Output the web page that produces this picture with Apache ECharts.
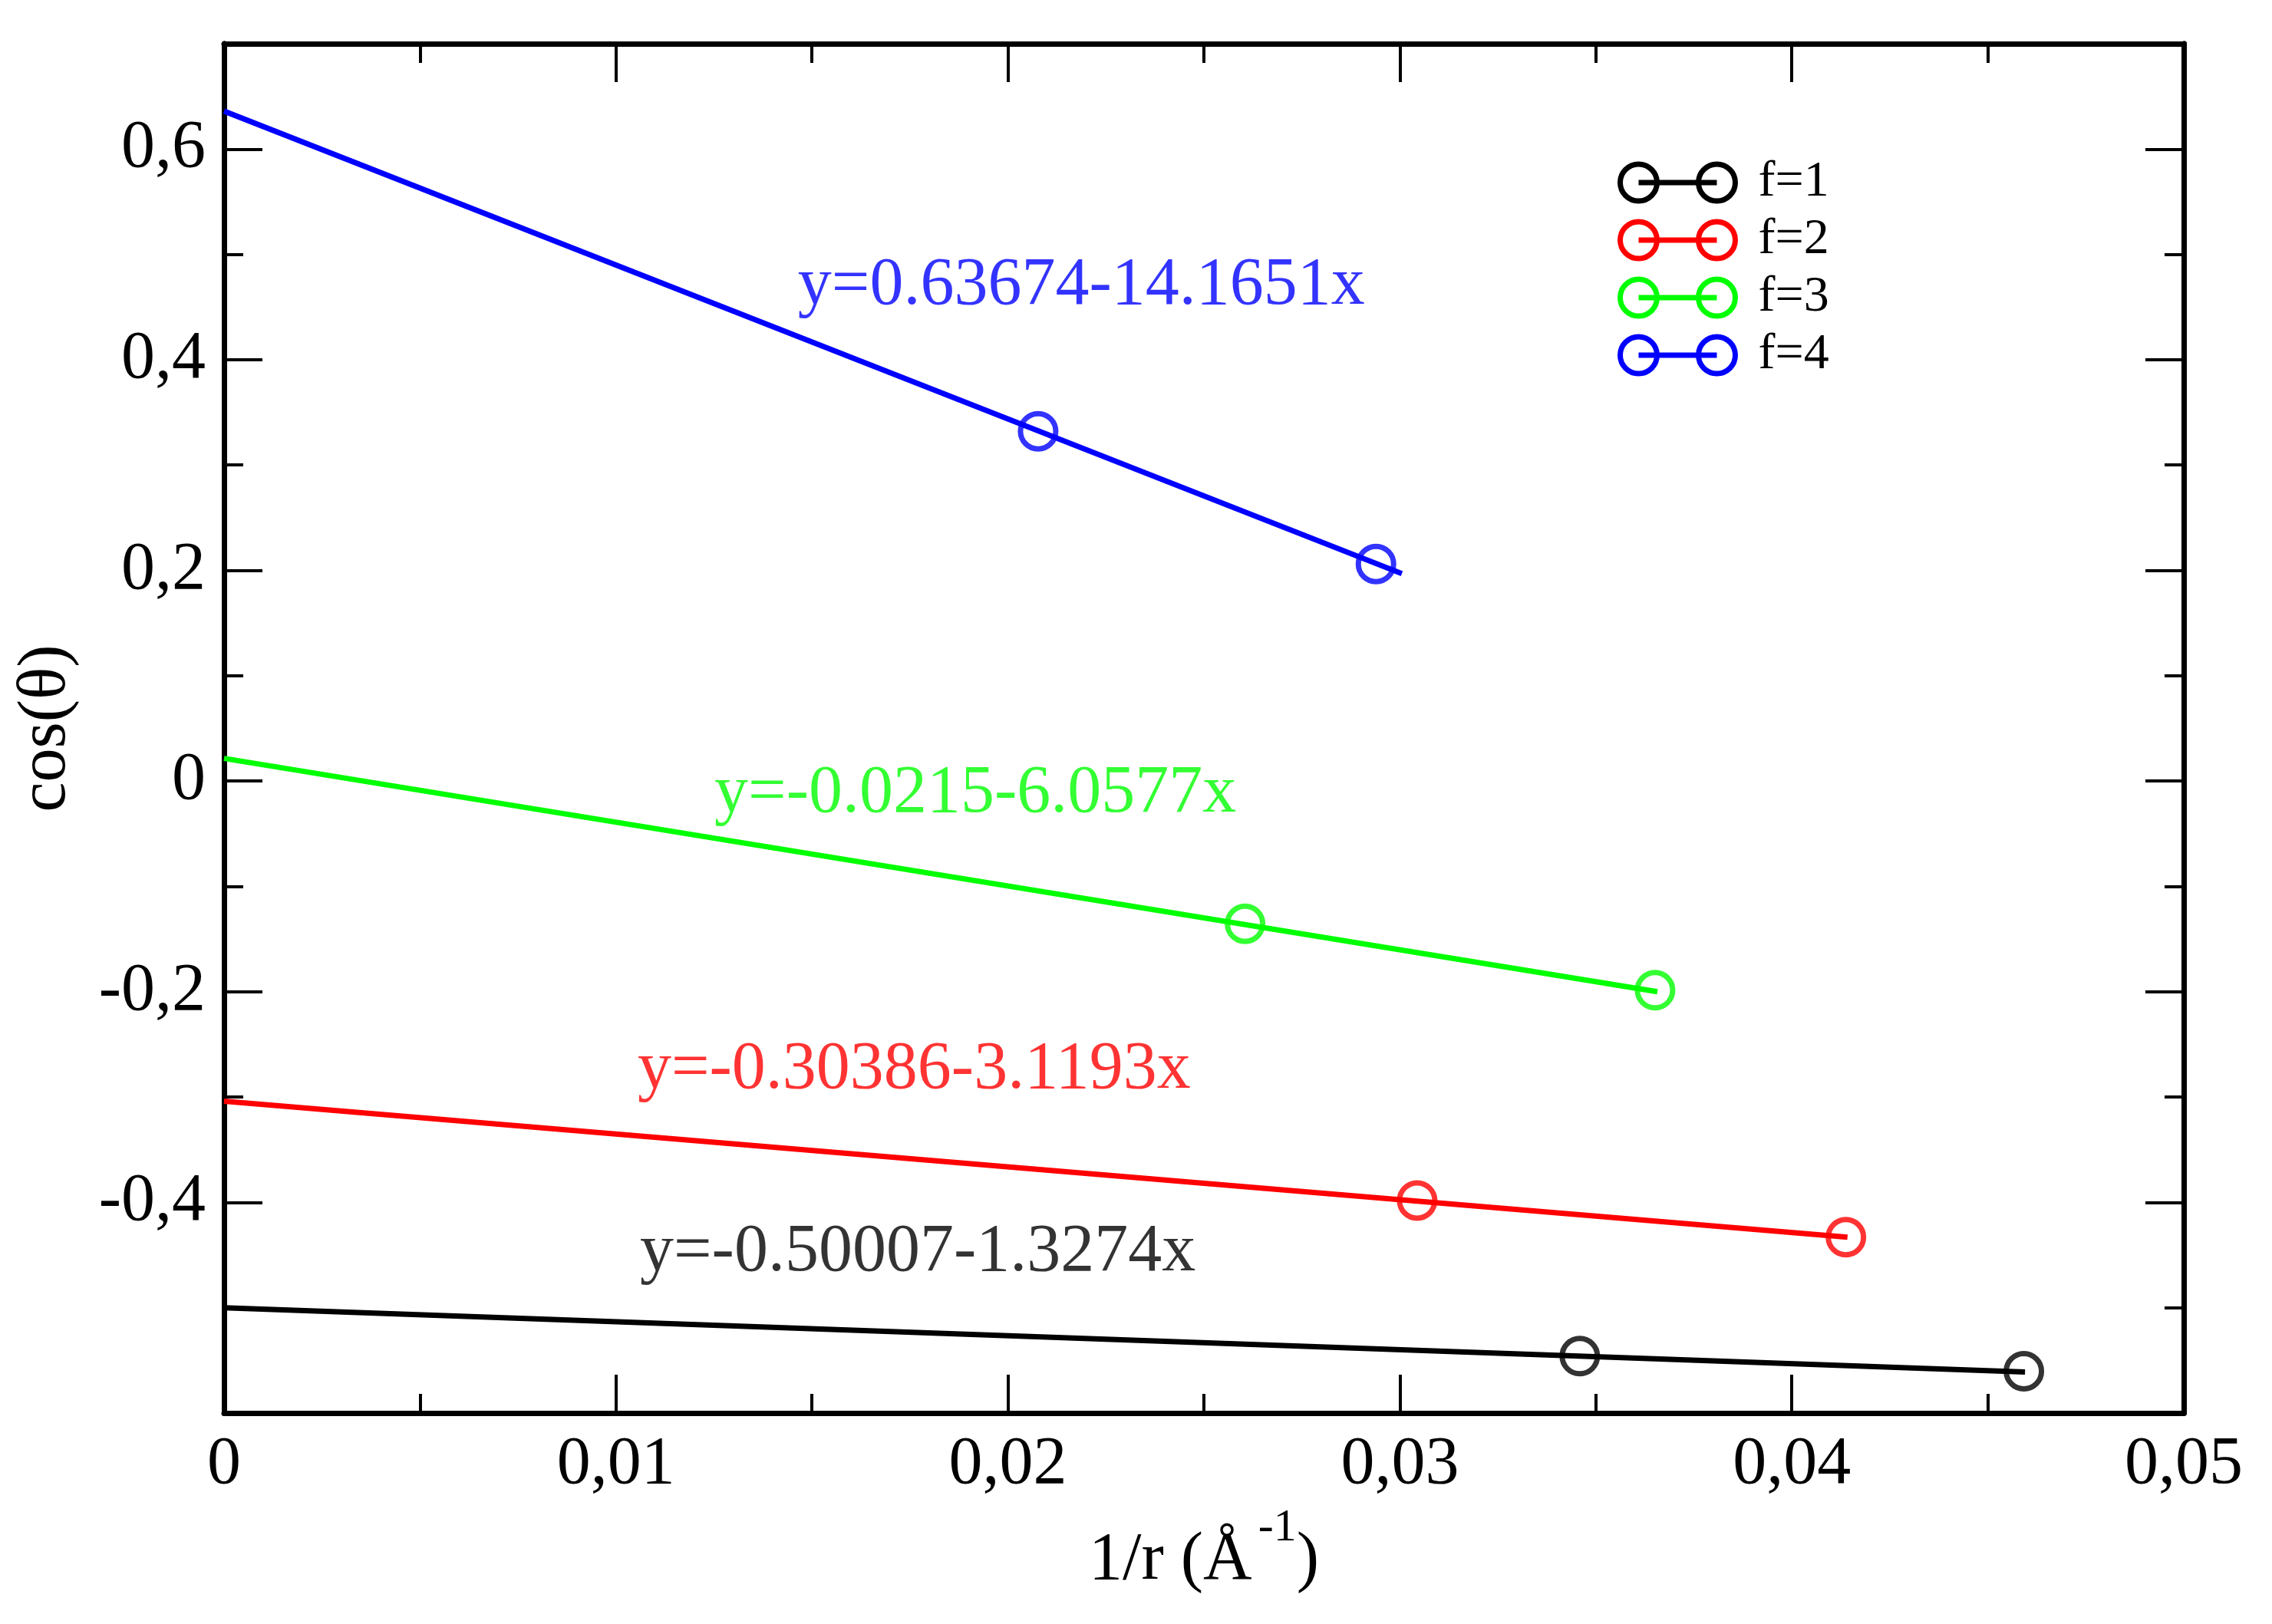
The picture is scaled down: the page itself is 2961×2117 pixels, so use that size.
<!DOCTYPE html>
<html>
<head>
<meta charset="utf-8">
<script src="https://cdn.jsdelivr.net/npm/echarts@6/dist/echarts.min.js"></script>
<style>
  html, body { margin: 0; padding: 0; background: #fff; }
  #chart { width: 2961px; height: 2117px; }
</style>
</head>
<body>
<div id="chart"></div>
<script>
// data
const seriesNames = ['f=1', 'f=2', 'f=3', 'f=4'];
const colors = ['#000000', '#ff0000', '#00ff00', '#0000ff'];

// measured points (1/r, cos theta)
const pointX = [[0.03459, 0.04592], [0.03044, 0.04138], [0.02605, 0.03651], [0.02077, 0.02939]];
const pointY = [[-0.5460, -0.5603], [-0.3982, -0.4331], [-0.1355, -0.1986], [0.3321, 0.2061]];

// fitted lines, from x = 0 to the last point
const fitX = [[0, 0.04595], [0, 0.04142], [0, 0.03657], [0, 0.03005]];
const fitY = [[-0.5001, -0.5611], [-0.3039, -0.4331], [0.0215, -0.2000], [0.6360, 0.1970]];

// equation labels and where they sit (data units)
const fitText = ['y=-0.50007-1.3274x', 'y=-0.30386-3.1193x', 'y=-0.0215-6.0577x', 'y=0.63674-14.1651x'];
const fitTextX = [0.01061, 0.01055, 0.01251, 0.01464];
const fitTextY = [-0.4479, -0.2746, -0.0124, 0.4698];

const xMin = 0, xMax = 0.05, xStep = 0.01;
const yMin = -0.6, yMax = 0.7;

const FONT = '"Liberation Serif", "Times New Roman", serif';
const pair = (xs, ys) => xs.map((x, i) => [x, ys[i]]);

const legendIcon = 'path://M0,10A10,10,0,1,1,20,10A10,10,0,1,1,0,10Z' +
  'M42.5,10A10,10,0,1,1,62.5,10A10,10,0,1,1,42.5,10ZM10,10L52.5,10';

function yLabel(v) {
  if (Math.abs(v - yMin) < 1e-9 || Math.abs(v - yMax) < 1e-9) return '';
  const r = Math.round(v * 10) / 10;
  return r === 0 ? '0' : String(r).replace('.', ',');
}
function xLabel(v) {
  return v === 0 ? '0' : v.toFixed(2).replace('.', ',');
}

const frame = { show: true, onZero: false, lineStyle: { color: '#000', width: 7 } };

function yAxisDef(pos, step, tickLen, labels) {
  return {
    type: 'value', position: pos, min: yMin, max: yMax, interval: step,
    axisLine: frame,
    axisTick: { show: true, inside: true, length: tickLen, lineStyle: { color: '#000', width: 4 } },
    axisLabel: labels
      ? { show: true, margin: 24, fontSize: 88, fontFamily: FONT, color: '#000', formatter: yLabel }
      : { show: false },
    splitLine: { show: false }
  };
}
function xAxisDef(pos, labels) {
  return {
    type: 'value', position: pos, min: xMin, max: xMax, interval: xStep,
    axisLine: frame,
    axisTick: { show: true, inside: true, length: 50, lineStyle: { color: '#000', width: 4 } },
    minorTick: { show: true, splitNumber: 2, length: 25, lineStyle: { color: '#000', width: 4 } },
    axisLabel: labels
      ? { show: true, margin: 24, fontSize: 88, fontFamily: FONT, color: '#000', formatter: xLabel }
      : { show: false },
    splitLine: { show: false },
    minorSplitLine: { show: false }
  };
}

const xBottom = xAxisDef('bottom', true);
xBottom.name = '1/r (Å{sup|-1})';
xBottom.nameLocation = 'middle';
xBottom.nameGap = 120;
xBottom.nameTextStyle = {
  fontSize: 88, fontFamily: FONT, color: '#000',
  rich: { sup: { fontSize: 60, fontFamily: FONT, color: '#000', padding: [0, 0, 85, 8] } }
};

const yLeft = yAxisDef('left', 0.2, 50, true);
yLeft.name = 'cos(θ)';
yLeft.nameLocation = 'middle';
yLeft.nameGap = 187;
yLeft.nameTextStyle = { fontSize: 88, fontFamily: FONT, color: '#000' };

const series = [];
seriesNames.forEach((name, i) => {
  series.push({
    name: name, type: 'line', xAxisIndex: 0, yAxisIndex: 0,
    data: pair(fitX[i], fitY[i]),
    symbol: 'none', showSymbol: false,
    lineStyle: { color: colors[i], width: 7 },
    itemStyle: { color: colors[i] },
    z: 2
  });
  series.push({
    name: name, type: 'scatter', xAxisIndex: 0, yAxisIndex: 0,
    data: pair(pointX[i], pointY[i]),
    symbol: 'circle', symbolSize: 46,
    itemStyle: { color: 'transparent', borderColor: colors[i], borderWidth: 7 },
    z: 3
  });
});
series.push({
  name: 'fits', type: 'scatter', xAxisIndex: 0, yAxisIndex: 0, silent: true,
  symbolSize: 0,
  data: fitText.map((t, i) => ({
    value: [fitTextX[i], fitTextY[i]],
    label: { color: colors[i] }
  })),
  label: {
    show: true, position: 'right', distance: 0,
    fontSize: 88, fontFamily: FONT,
    formatter: p => fitText[p.dataIndex]
  },
  z: 4
});

const chart = echarts.init(document.getElementById('chart'), null, { renderer: 'canvas' });
chart.setOption({
  animation: false,
  backgroundColor: '#fff',
  grid: { left: 292, right: 115, top: 57, bottom: 275, containLabel: false },
  xAxis: [xBottom, xAxisDef('top', false)],
  yAxis: [
    yLeft,
    yAxisDef('left', 0.1, 25, false),
    yAxisDef('right', 0.2, 50, false),
    yAxisDef('right', 0.1, 25, false)
  ],
  legend: {
    orient: 'vertical', left: 2103, top: 200,
    itemWidth: 150, itemHeight: 48, itemGap: 9,
    selectedMode: false,
    textStyle: { fontSize: 66, fontFamily: FONT, color: '#000', lineHeight: 66, padding: [0, 0, 0, 25] },
    data: seriesNames.map((n, i) => ({
      name: n, icon: legendIcon,
      itemStyle: { color: 'transparent', borderColor: colors[i], borderWidth: 7 }
    }))
  },
  series: series
});
</script>
</body>
</html>
